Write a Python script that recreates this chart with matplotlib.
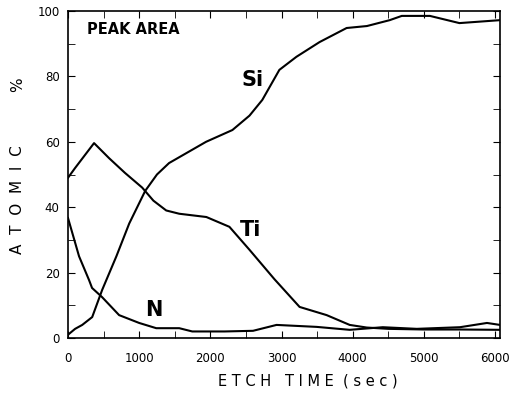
import matplotlib
matplotlib.use("Agg")
import matplotlib.pyplot as plt
from matplotlib.ticker import MultipleLocator

# Data (etch time in sec, atomic %)
si_t = [0, 100, 200, 340, 480, 680, 860, 1085, 1250, 1420, 1700, 1940, 2310, 2550, 2730, 2970, 3210, 3535, 3915, 4200, 4520, 4690, 5085, 5500, 6070]
si_v = [1, 2.8, 4.0, 6.4, 14.7, 25, 35, 45, 50, 53.5, 57, 60, 63.6, 68, 72.8, 82, 86, 90.5, 94.8, 95.4, 97.2, 98.5, 98.5, 96.3, 97.2]

ti_t = [0, 100, 366, 577, 800, 1042, 1200, 1380, 1563, 1944, 2268, 2549, 2900, 3254, 3634, 3958, 4197, 4500, 5000, 5500, 6070]
ti_v = [49, 52, 59.6, 55, 50.5, 46, 42, 39, 38, 37, 34, 27, 18, 9.5, 7, 4, 3.2, 2.8, 2.6, 2.6, 2.5]

n_t = [0, 155, 296, 338, 479, 718, 1000, 1240, 1563, 1746, 2200, 2600, 2930, 3493, 3958, 4423, 4901, 5507, 5887, 6070]
n_v = [36.7, 25, 17.7, 15.3, 12.5, 7, 4.6, 3, 3, 2, 2, 2.2, 4, 3.4, 2.5, 3.3, 2.8, 3.3, 4.6, 4]

x_ticks = [0, 1000, 2000, 3000, 4000, 5000, 6000]
y_ticks = [0, 20, 40, 60, 80, 100]

fig = plt.figure(figsize=(5.16, 3.93), dpi=100)
ax = fig.add_axes([68/516, 55/393, 432/516, 327/393])

for t, v in [(si_t, si_v), (ti_t, ti_v), (n_t, n_v)]:
    ax.plot(t, v, color="black", lw=1.5)

ax.set_xlim(0, 6070)
ax.set_ylim(0, 100)
ax.set_xticks(x_ticks)
ax.set_yticks(y_ticks)
ax.xaxis.set_minor_locator(MultipleLocator(500))
ax.yaxis.set_minor_locator(MultipleLocator(10))
ax.tick_params(which="both", direction="in", top=True, right=True, labelsize=8.5)
ax.tick_params(which="major", length=5)
ax.tick_params(which="minor", length=5)
ax.tick_params(axis="x", pad=10)
ax.tick_params(axis="y", pad=6)
for s in ax.spines.values():
    s.set_linewidth(1.2)

ax.text(0.045, 0.965, "PEAK AREA", transform=ax.transAxes, fontsize=10.5, fontweight="bold", va="top")
ax.text(2440, 79, "Si", fontsize=15, fontweight="bold", va="center")
ax.text(2420, 33, "Ti", fontsize=15, fontweight="bold", va="center")
ax.text(1080, 8.5, "N", fontsize=15, fontweight="bold", va="center")

fig.text(308/516, 1 - 381/393, "E T C H   T I M E  ( s e c )", fontsize=10.5, ha="center", va="center")
fig.text(18/516, 1 - 200/393, "A  T  O  M  I  C", fontsize=11, rotation=90, ha="center", va="center")
fig.text(18/516, 1 - 85/393, "%", fontsize=11, rotation=90, ha="center", va="center")

fig.savefig("out.png", dpi=100)
